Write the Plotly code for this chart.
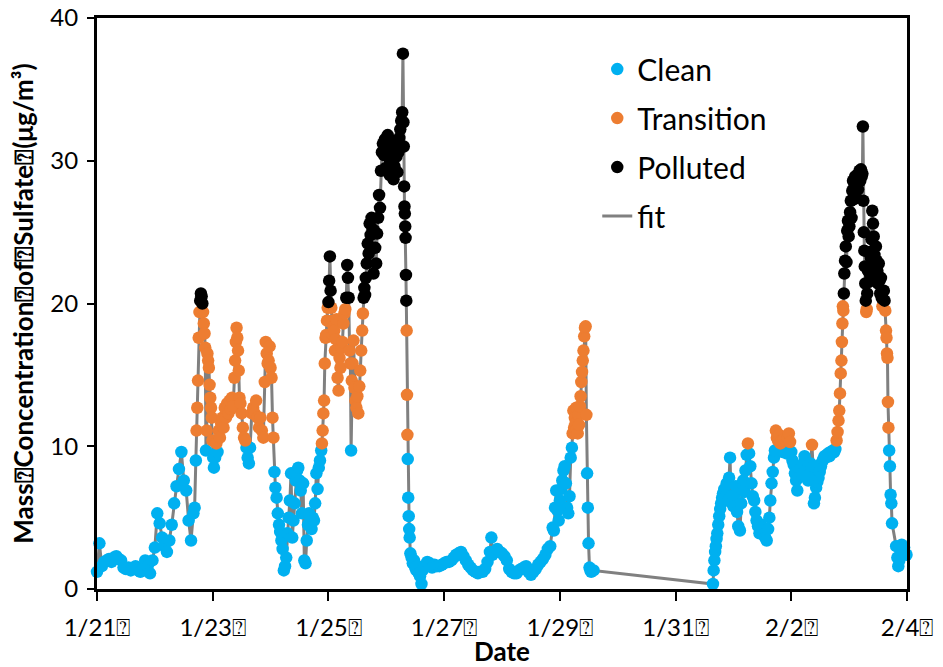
import pandas as pd
import plotly.graph_objects as go

# Sulfate mass concentration measured at the site, 21 Jan - 4 Feb.
# Sample times are hours after 1/21 00:00; concentrations in ug/m3.
START = pd.Timestamp("2013-01-21 00:00")
END = pd.Timestamp("2013-02-04 00:00")

hours = [
    # 1/21
    0, 1, 2, 3, 4, 5, 6, 7, 8, 9, 10, 11, 12, 13, 14, 15, 16, 17, 18, 19, 20, 21, 22, 23,
    # 1/22
    24, 25, 26, 27, 28, 29, 30, 31, 32, 33, 34, 35, 36, 37, 38, 39, 40, 40.5, 41,
    41.3, 41.6, 41.9, 42.2, 42.5, 42.8, 43.1, 43.4, 43.7, 44.0, 44.3, 44.6, 44.9, 45.2,
    45.5, 45.8, 46.1, 46.4, 46.7, 47.0, 47.3, 47.6, 47.9, 48.2,
    # 1/23
    48.5, 49, 49.5, 50, 50.5, 51, 51.5, 52, 52.5, 53, 53.5, 54, 54.5, 55, 55.5, 56, 56.5,
    57, 57.3, 57.6, 57.9, 58.2, 58.5, 58.8, 59.1, 59.5, 60, 60.5, 61, 61.5, 62, 62.5, 63,
    63.5, 64.2, 64.8, 65.4, 66, 66.6, 67.2, 67.8, 68.4, 69, 69.6, 70, 70.4, 70.8, 71.2,
    71.6, 72, 72.4, 72.8, 73.2, 73.6,
    # 1/24
    74, 74.5, 75, 75.5, 76, 76.5, 77, 77.5, 78, 78.5, 79, 79.5, 80, 80.5, 81, 81.5, 82,
    82.5, 83, 83.5, 84, 84.5, 85, 85.5, 86, 86.5, 87, 87.5, 88, 88.5, 89, 89.5, 90, 90.5,
    91, 91.5, 92, 92.5, 93,
    # 1/25
    93.3, 93.6, 93.9, 94.2, 94.5, 94.8, 95.1, 95.4, 95.7, 96.0, 96.3, 96.6, 96.9, 97.2,
    97.5, 97.8, 98.1, 98.4, 98.7, 99.0, 99.4, 99.8, 100.2, 100.6, 101, 101.4, 101.8,
    102.2, 102.6, 103, 103.4, 103.8, 104.1, 104.4, 104.8, 105.1, 105.4, 105.7, 106,
    106.4, 106.8, 107.2, 107.6, 108, 108.4, 108.8, 109.2, 109.6, 110, 110.3, 110.6,
    110.9, 111.2, 111.5, 111.9, 112.3, 112.7, 113.1, 113.5, 113.9, 114.3, 114.7,
    # 1/25 night - 1/26
    115.0, 115.4, 115.8, 116.2, 116.6, 117.0, 117.4, 117.8, 118.2, 118.6, 119.0, 119.4,
    119.8, 120.2, 120.6, 121.0, 121.4, 121.8, 122.2, 122.6, 123.0, 123.4, 123.8, 124.2,
    124.6, 125.0, 125.4, 125.8, 126.2, 126.6, 126.9, 127.1, 127.25, 127.4, 127.55, 127.7,
    127.85, 128.0, 128.15, 128.3, 128.45, 128.6, 128.75, 128.9, 129.1, 129.3, 129.5,
    129.7, 130.0, 130.5, 131, 131.5, 132, 132.5, 133, 133.5, 134, 134.6,
    # 1/26 - 1/28
    135, 136, 137, 138, 139, 140, 141, 142, 143, 144, 145, 146, 147, 148, 149, 150, 151,
    152, 153, 154, 155, 156, 157, 158, 159, 160, 161, 162, 163, 163.6, 164, 165, 166,
    167, 168, 169, 170, 171, 172, 173, 174, 175, 176, 177, 178, 179, 180, 181, 182, 183,
    184, 185, 186, 187, 188, 189,
    # 1/28 night - 1/29
    189.5, 190, 190.5, 191, 191.5, 192, 192.5, 193, 193.5, 194, 194.5, 195, 195.5, 196,
    196.5, 197, 197.3, 197.6, 197.9, 198.2, 198.5, 198.8, 199.1, 199.4, 199.7, 200.0,
    200.3, 200.6, 200.9, 201.2, 201.5, 201.8, 202.1, 202.4, 202.7, 203.0, 203.3, 203.6,
    203.9, 204.3, 204.7, 205, 206,
    # 1/31 - 2/1
    255.5, 255.8, 256.1, 256.4, 256.7, 257.0, 257.3, 257.7, 258.1, 258.5,
    258.9, 259.3, 259.7, 260.2, 260.7, 261.2, 261.7, 262.2, 262.6, 263.0,
    263.5, 264.0, 264.5, 265.0, 265.5, 266.0, 266.7, 267.2, 267.7, 268.1,
    268.6, 269.0, 269.5, 270.0, 270.5, 271.0, 271.5, 272.0, 272.6, 273.1,
    273.6, 274.2, 274.8, 275.4, 276.0, 276.6, 277.2, 277.8, 278.4, 278.9,
    279.3, 279.8, 280.3, 280.8, 281.2, 281.6, 282.0, 282.5, 283.0, 283.5,
    284.0, 284.5, 285.0, 285.5, 286.0, 286.5, 287.0, 287.5, 288.0, 288.5,
    # 2/2
    289.0, 289.5, 290.0, 290.5, 291.0, 291.5, 292.0, 292.5, 293.0, 293.5,
    294.0, 294.5, 295.0, 295.5, 296.0, 296.6, 297.0, 297.4, 297.8, 298.3,
    298.8, 299.3, 299.8, 300.3, 300.8, 301.3, 301.8, 302.3, 302.8, 303.3,
    303.8, 304.3, 304.8, 305.3, 305.8, 306.3, 306.8, 307.2, 307.6, 307.9,
    308.2, 308.5, 308.8, 309.0, 309.2, 309.4, 309.6, 309.8, 310.0, 310.3,
    310.6, 310.9, 311.2, 311.5, 311.8, 312.1, 312.4, 312.7, 313.0, 313.3,
    # 2/3
    313.6, 313.9, 314.2, 314.5, 314.8, 315.1, 315.4, 315.7, 316.0, 316.3,
    316.6, 316.9, 317.2, 317.5, 317.7, 317.9, 318.1, 318.3, 318.5, 318.7,
    318.9, 319.1, 319.3, 319.5, 319.8, 320.1, 320.4, 320.7, 321.0, 321.3,
    321.6, 321.9, 322.2, 322.5, 322.8, 323.1, 323.4, 323.7, 324.0, 324.3,
    324.6, 324.9, 325.2, 325.5, 325.8, 326.1, 326.4, 326.7, 327.0, 327.3,
    327.5, 327.7, 327.9, 328.1, 328.3, 328.6, 328.9, 329.2, 329.5, 329.8,
    331.5, 332.0, 332.4, 332.8, 333.3, 333.8, 334.3, 334.8, 335.3, 335.8,
    336.3,
]

sulfate = [
    # 1/21
    1.2, 3.2, 1.6, 1.9, 2.0, 2.1, 1.9, 2.2, 2.3, 2.1, 2.0, 1.5, 1.4, 1.5, 1.3, 1.4, 1.6, 1.3, 1.2, 1.4, 2.0, 1.6, 1.1, 2.0,
    # 1/22
    2.9, 5.3, 4.6, 3.6, 3.0, 2.6, 3.4, 4.5, 6.0, 7.2, 8.4, 9.6, 7.6, 6.9, 4.8, 3.4, 5.3, 5.7, 9.0,
    11.1, 12.7, 14.6, 17.6, 19.4, 20.2, 20.7, 20.5, 20.0, 19.4, 18.6, 17.9, 16.9, 9.7,
    11.1, 16.5, 16.0, 15.5, 14.3, 13.4, 12.7, 12.0, 10.4, 9.2,
    # 1/23
    8.5, 9.2, 10.2, 9.6, 11.1, 10.6, 11.6, 12.0, 11.3, 12.7, 12.0, 13.0, 12.3, 13.2, 12.6, 13.4, 12.8,
    14.8, 16.0, 17.3, 18.3, 17.6, 16.7, 15.3, 13.4, 13.0, 12.3, 11.3, 10.6, 10.4, 9.9, 9.2, 8.8,
    9.9, 12.3, 12.7, 12.3, 13.2, 12.0, 11.3, 12.0, 11.1, 10.6, 14.5, 17.3, 16.5, 15.8, 16.0,
    17.0, 15.5, 14.8, 12.0, 10.6, 8.2,
    # 1/24
    7.1, 6.4, 5.3, 4.5, 4.0, 3.4, 2.8, 1.3, 1.6, 2.2, 3.9, 5.0, 6.2, 8.1, 3.6, 4.8, 6.0,
    7.6, 8.3, 8.5, 7.6, 6.9, 5.3, 7.4, 2.0, 1.8, 3.4, 4.5, 5.3, 4.8, 4.2, 5.0, 4.8, 6.0,
    8.1, 7.0, 8.5, 9.0, 9.7,
    # 1/25
    10.2, 11.1, 12.3, 13.2, 15.8, 17.6, 17.8, 18.8, 19.7, 20.1, 21.6, 23.3, 20.9, 19.7,
    18.8, 17.8, 18.4, 18.1, 16.7, 17.5, 18.9, 14.8, 13.9, 16.2, 15.5, 16.9, 17.3,
    18.6, 19.3, 19.6, 20.4, 22.7, 21.8, 20.4, 16.7, 15.8, 9.7, 14.6, 15.8,
    17.4, 14.1, 13.2, 12.7, 13.5, 12.3, 14.2, 15.3, 16.7, 18.1, 19.3, 20.4,
    21.1, 20.6, 21.8, 22.8, 24.2, 23.5, 25.6, 24.8, 26.0, 25.2, 22.1,
    # 1/25 night - 1/26
    25.1, 23.9, 22.8, 24.9, 26.0, 27.6, 26.7, 29.3, 30.6, 31.2, 30.4, 31.5,
    29.5, 30.8, 31.8, 30.2, 29.0, 30.5, 31.4, 30.0, 28.7, 29.6, 31.0, 30.3,
    29.2, 30.6, 31.6, 32.2, 32.8, 33.4, 37.5, 32.7, 31.0, 28.2, 26.8, 26.3,
    25.4, 24.6, 22.0, 20.2, 18.1, 13.6, 10.8, 9.1, 6.4, 5.1, 4.2,
    3.6, 2.5, 2.2, 1.8, 2.0, 1.5, 1.3, 1.6, 1.1, 0.9, 0.35,
    # 1/26 - 1/28
    1.3, 1.6, 1.9, 1.8, 1.5, 1.7, 1.6, 1.6, 1.7, 1.8, 1.9, 1.9, 2.0, 2.2, 2.4, 2.5, 2.6,
    2.3, 2.0, 1.7, 1.5, 1.3, 1.2, 1.1, 1.2, 1.2, 1.4, 1.9, 2.6, 3.6, 2.4, 2.6, 2.8,
    2.6, 2.5, 2.3, 2.0, 1.4, 1.2, 1.1, 1.1, 1.3, 1.4, 1.5, 1.6, 1.2, 1.0, 1.2, 1.4, 1.7,
    1.9, 2.1, 2.4, 2.8, 3.0, 4.3,
    # 1/28 night - 1/29
    4.1, 5.7, 6.9, 5.5, 4.8, 6.2, 7.0, 7.6, 8.3, 8.6, 7.4, 5.7, 5.3, 6.5,
    9.2, 9.9, 10.9, 12.5, 11.3, 12.0, 11.6, 12.7, 11.2, 10.9, 12.2, 11.5,
    12.8, 13.5, 14.5, 15.2, 16.0, 16.7, 17.7, 18.3, 18.4, 12.2, 8.1, 5.7,
    3.2, 1.5, 1.3, 1.2, 1.3,
    # 1/31 - 2/1
    0.35, 1.3, 2.0, 2.6, 3.0, 3.5, 3.9, 4.5, 5.1, 5.6,
    6.0, 6.4, 6.7, 7.0, 6.5, 7.4, 6.2, 7.8, 9.2, 6.5,
    6.0, 5.8, 6.6, 7.2, 5.4, 4.4, 4.1, 6.0, 7.4, 7.6,
    6.8, 8.3, 9.4, 10.2, 9.5, 8.6, 7.4, 6.5, 6.2, 5.4,
    4.8, 4.4, 3.9, 4.5, 4.3, 3.8, 3.6, 3.4, 4.2, 5.0,
    6.2, 7.4, 8.2, 9.2, 9.7, 11.1, 10.6, 10.4, 10.8, 10.2,
    10.4, 9.6, 10.5, 9.8, 9.5, 10.6, 10.9, 10.3, 9.6, 9.0,
    # 2/2
    8.7, 8.1, 7.6, 6.9, 7.8, 8.4, 7.9, 8.1, 8.8, 9.3,
    8.8, 8.4, 7.6, 8.0, 8.8, 10.1, 8.6, 6.0, 6.4, 7.1,
    7.5, 7.8, 8.2, 8.6, 8.9, 9.1, 9.3, 9.2, 9.4, 9.5,
    9.3, 9.6, 9.5, 9.7, 9.6, 9.8, 10.4, 11.0, 11.8, 12.5,
    13.7, 15.1, 16.0, 17.3, 18.6, 19.8, 19.5, 20.7, 22.1, 23.0,
    24.0, 22.9, 25.1, 25.8, 24.7, 25.4, 26.4, 27.2, 26.0, 27.9,
    # 2/3
    28.6, 27.3, 28.2, 28.9, 27.8, 28.5, 29.0, 28.0, 28.8, 29.3,
    28.6, 29.4, 28.9, 29.1, 32.4, 27.2, 25.0, 23.7, 22.6, 21.4,
    20.2, 19.4, 19.6, 20.7, 22.3, 21.5, 23.6, 22.0, 23.2, 24.5,
    26.5, 25.6, 24.7, 23.4, 22.6, 24.0, 23.0, 22.3, 21.4, 22.8,
    21.6, 20.7, 21.8, 20.4, 19.8, 20.3, 20.9, 20.2, 19.5, 18.1,
    17.6, 16.5, 16.2, 13.1, 11.3, 9.7, 8.6, 6.6, 6.0, 4.6,
    3.0, 2.2, 1.6, 2.0, 2.8, 3.1, 2.6, 2.9, 2.5, 2.4,
    2.5,
]

# Pollution level boundaries (ug/m3)
CLEAN_BELOW = 10.0
POLLUTED_FROM = 20.0

tick_dates = ["2013-01-21", "2013-01-23", "2013-01-25", "2013-01-27",
              "2013-01-29", "2013-01-31", "2013-02-02", "2013-02-04"]
tick_labels = ["1/21\u2370", "1/23\u2370", "1/25\u2370", "1/27\u2370",
               "1/29\u2370", "1/31\u2370", "2/2\u2370", "2/4\u2370"]

y_title = "Mass\u2370Concentration\u2370of\u2370Sulfate\u2370(\u03bcg/m\u00b3)"

n = min(len(hours), len(sulfate))
times = [START + pd.Timedelta(hours=h) for h in hours[:n]]
values = sulfate[:n]


def pick(cond):
    xs = [t for t, v in zip(times, values) if cond(v)]
    ys = [v for v in values if cond(v)]
    return xs, ys


clean_x, clean_y = pick(lambda v: v < CLEAN_BELOW)
trans_x, trans_y = pick(lambda v: CLEAN_BELOW <= v < POLLUTED_FROM)
poll_x, poll_y = pick(lambda v: v >= POLLUTED_FROM)

FONT = "Lato, 'Liberation Sans', sans-serif"
MARKER_SIZE = 12.5

fig = go.Figure()
fig.add_trace(go.Scatter(
    x=times, y=values, mode="lines", name="fit",
    line=dict(color="#808080", width=3),
    legendrank=4, legendgroup="fit", cliponaxis=False,
))
for name, xs, ys, color, rank in [
    ("Clean", clean_x, clean_y, "#00B0F0", 1),
    ("Transition", trans_x, trans_y, "#ED7D31", 2),
    ("Polluted", poll_x, poll_y, "#000000", 3),
]:
    fig.add_trace(go.Scatter(
        x=xs, y=ys, mode="markers", name=name,
        marker=dict(color=color, size=MARKER_SIZE, line=dict(width=0)),
        legendrank=rank, legendgroup=name, cliponaxis=False,
    ))

axis_common = dict(
    showline=True, linewidth=3, linecolor="black", mirror=True,
    ticks="outside", tickcolor="black", tickwidth=1.5,
    showgrid=False, zeroline=False, automargin=False,
)

fig.update_layout(
    width=943, height=667,
    margin=dict(l=97, r=36, t=18, b=78),
    paper_bgcolor="white", plot_bgcolor="white",
    font=dict(family=FONT, color="black", size=24),
    showlegend=True,
    legend=dict(
        x=0.6176, y=0.956, xanchor="left", yanchor="top",
        bgcolor="rgba(0,0,0,0)", borderwidth=0,
        font=dict(family=FONT, size=30, color="black"),
        tracegroupgap=7, itemwidth=30,
    ),
    xaxis=dict(
        type="date", range=[START, END],
        tickmode="array", tickvals=tick_dates, ticktext=tick_labels,
        ticklen=9, ticklabelstandoff=6, tickfont=dict(family=FONT, size=24),
        title=dict(text="<b>Date</b>", font=dict(family=FONT, size=26), standoff=6),
        **axis_common,
    ),
    yaxis=dict(
        range=[0, 40], tickmode="linear", tick0=0, dtick=10,
        ticklen=7, ticklabelstandoff=4, tickfont=dict(family=FONT, size=24),
        title=dict(text="<b>" + y_title + "</b>", font=dict(family=FONT, size=26), standoff=10),
        **axis_common,
    ),
)

fig.write_html("out.html")
